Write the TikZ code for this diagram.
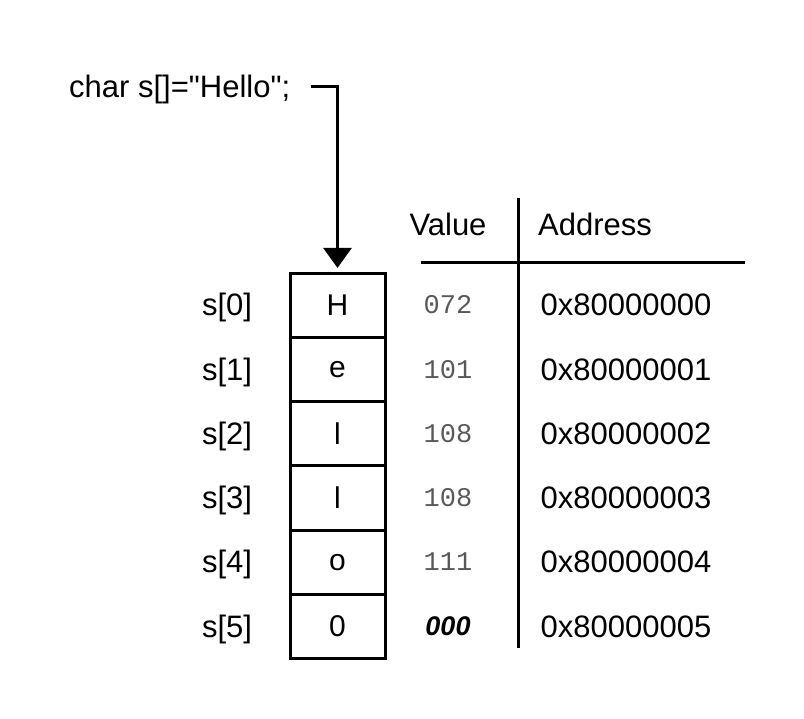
\documentclass[tikz,border=0pt]{standalone}
\usepackage{fontspec}
\setmainfont{Liberation Sans}
\setmonofont{Liberation Mono}
\usetikzlibrary{arrows.meta}

\tikzset{
  cell/.style={draw, line width=3pt, minimum width=95pt, minimum height=64.2pt, inner sep=0pt,
    font=\fontsize{30}{36}\selectfont},
  txt/.style={font=\fontsize{31}{36}\selectfont, inner sep=0pt, anchor=base},
  val/.style={font=\fontsize{27}{32}\selectfont\ttfamily, text=black!65, inner sep=0pt, anchor=base}
}

\begin{document}
\begin{tikzpicture}[x=1pt,y=-1pt]
 \useasboundingbox (0,0) rectangle (804,719);
 % declaration
 \node[txt, anchor=base west] (decl) at (69,98) {char s[]=\textquotedbl Hello\textquotedbl;};
 \coordinate (start) at (311,87);
 % the array
 \foreach \i/\c in {0/H,1/e,2/l,3/l,4/o,5/0} {
   \node[cell] (cell\i) at (337.5,{305.5+64.2*\i}) {\c};
   \node[txt] (idx\i) at (227,{316+64.2*\i}) {s[\i]};
 }
 \draw [line width=3pt, -{Triangle[length=20pt,width=28pt]}, shorten >=4pt] (start) -| (cell0.north);
 % table
 \node[txt] (valhead) at (448,236) {Value};
 \node[txt, anchor=base west] (addrhead) at (538,236) {Address};
 \coordinate (vtop) at (518,198);
 \coordinate (vbot) at (518,648);
 \coordinate (hleft) at (421,263);
 \coordinate (hright) at (745,263);
 \draw [line width=3pt] (vtop) -- (vbot);
 \draw [line width=3pt] (hleft) -- (hright);
 \foreach \i/\v in {0/072,1/101,2/108,3/108,4/111} {
   \node[val] (val\i) at (448,{314+64.2*\i}) {\v};
 }
 \node[txt, font=\fontsize{27}{32}\selectfont\bfseries\itshape] (val5) at (448,635) {000};
 \foreach \i in {0,...,5} {
   \node[txt] (addr\i) at (626,{316+64.2*\i}) {0x8000000\i};
 }
\end{tikzpicture}
\end{document}
